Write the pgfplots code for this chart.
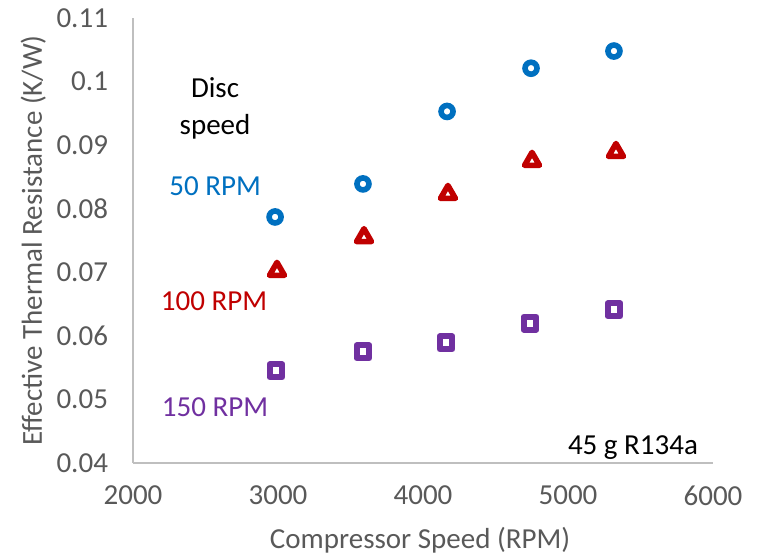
\documentclass[border=0pt]{standalone}
\usepackage{pgfplots}
\pgfplotsset{compat=1.18}
\usepackage{fontspec}
\setmainfont{Carlito}
\definecolor{cblue}{HTML}{0070C0}
\definecolor{cred}{HTML}{C00000}
\definecolor{cpurple}{HTML}{7030A0}
\definecolor{tgray}{HTML}{595959}
\definecolor{agray}{HTML}{BFBFBF}
\begin{document}
\begin{tikzpicture}
\path (-66.5bp,-47bp) rectangle (313bp,231.5bp);
\begin{axis}[
  at={(0,0)}, anchor=south west,
  scale only axis, width=290bp, height=222.5bp,
  xmin=2000, xmax=6000, ymin=0.04, ymax=0.11,
  xtick={2000,3000,4000,5000,6000},
  ytick={0.04,0.05,0.06,0.07,0.08,0.09,0.1,0.11},
  yticklabels={0.04,0.05,0.06,0.07,0.08,0.09,0.1,0.11},
  xticklabels={2000,3000,4000,5000,6000},
  axis x line*=bottom, axis y line*=left,
  axis line style={agray, line width=0.8bp, -},
  major tick length=0pt,
  tick label style={font=\fontsize{14.5bp}{17bp}\selectfont, text=tgray},
  /pgf/number format/assume math mode=true,
  yticklabel style={xshift=-9bp},
  xticklabel style={yshift=-8bp},
  every axis y label/.style={at={(axis description cs:-0.172,0.5)}, rotate=90, anchor=center},
  every axis x label/.style={at={(axis description cs:0.495,-0.173)}, anchor=center},
  label style={font=\fontsize{14.5bp}{17bp}\selectfont, text=tgray},
  xlabel={Compressor Speed (RPM)},
  ylabel={Effective Thermal Resistance (K/W)},
  clip=false,
]
\addplot[only marks, mark=o, mark size=3bp, cblue, line width=2.8bp] coordinates {
(2980,0.0787) (3586,0.0839) (4166,0.0953) (4745,0.1021) (5317,0.1048)};
\addplot[only marks, mark=triangle, mark size=4.3bp, cred, line width=2.8bp, mark options={line join=round}] coordinates {
(2993,0.0702) (3593,0.0755) (4172,0.0823) (4752,0.0875) (5331,0.0889)};
\addplot[only marks, mark=square, mark size=3.2bp, cpurple, line width=3bp, mark options={line join=round}] coordinates {
(2986,0.0545) (3586,0.0575) (4159,0.0589) (4738,0.0620) (5317,0.0641)};
\node[align=center, font=\fontsize{14.5bp}{18.5bp}\selectfont, text=black] at (axis cs:2566,0.0958) {Disc\\speed};
\node[font=\fontsize{14.5bp}{17bp}\selectfont, text=cblue] at (axis cs:2566,0.0835) {50 RPM};
\node[font=\fontsize{14.5bp}{17bp}\selectfont, text=cred] at (axis cs:2559,0.0655) {100 RPM};
\node[font=\fontsize{14.5bp}{17bp}\selectfont, text=cpurple] at (axis cs:2566,0.0488) {150 RPM};
\node[font=\fontsize{14.5bp}{17bp}\selectfont, text=black] at (axis cs:5448,0.0424) {45 g R134a};
\end{axis}
\end{tikzpicture}
\end{document}
